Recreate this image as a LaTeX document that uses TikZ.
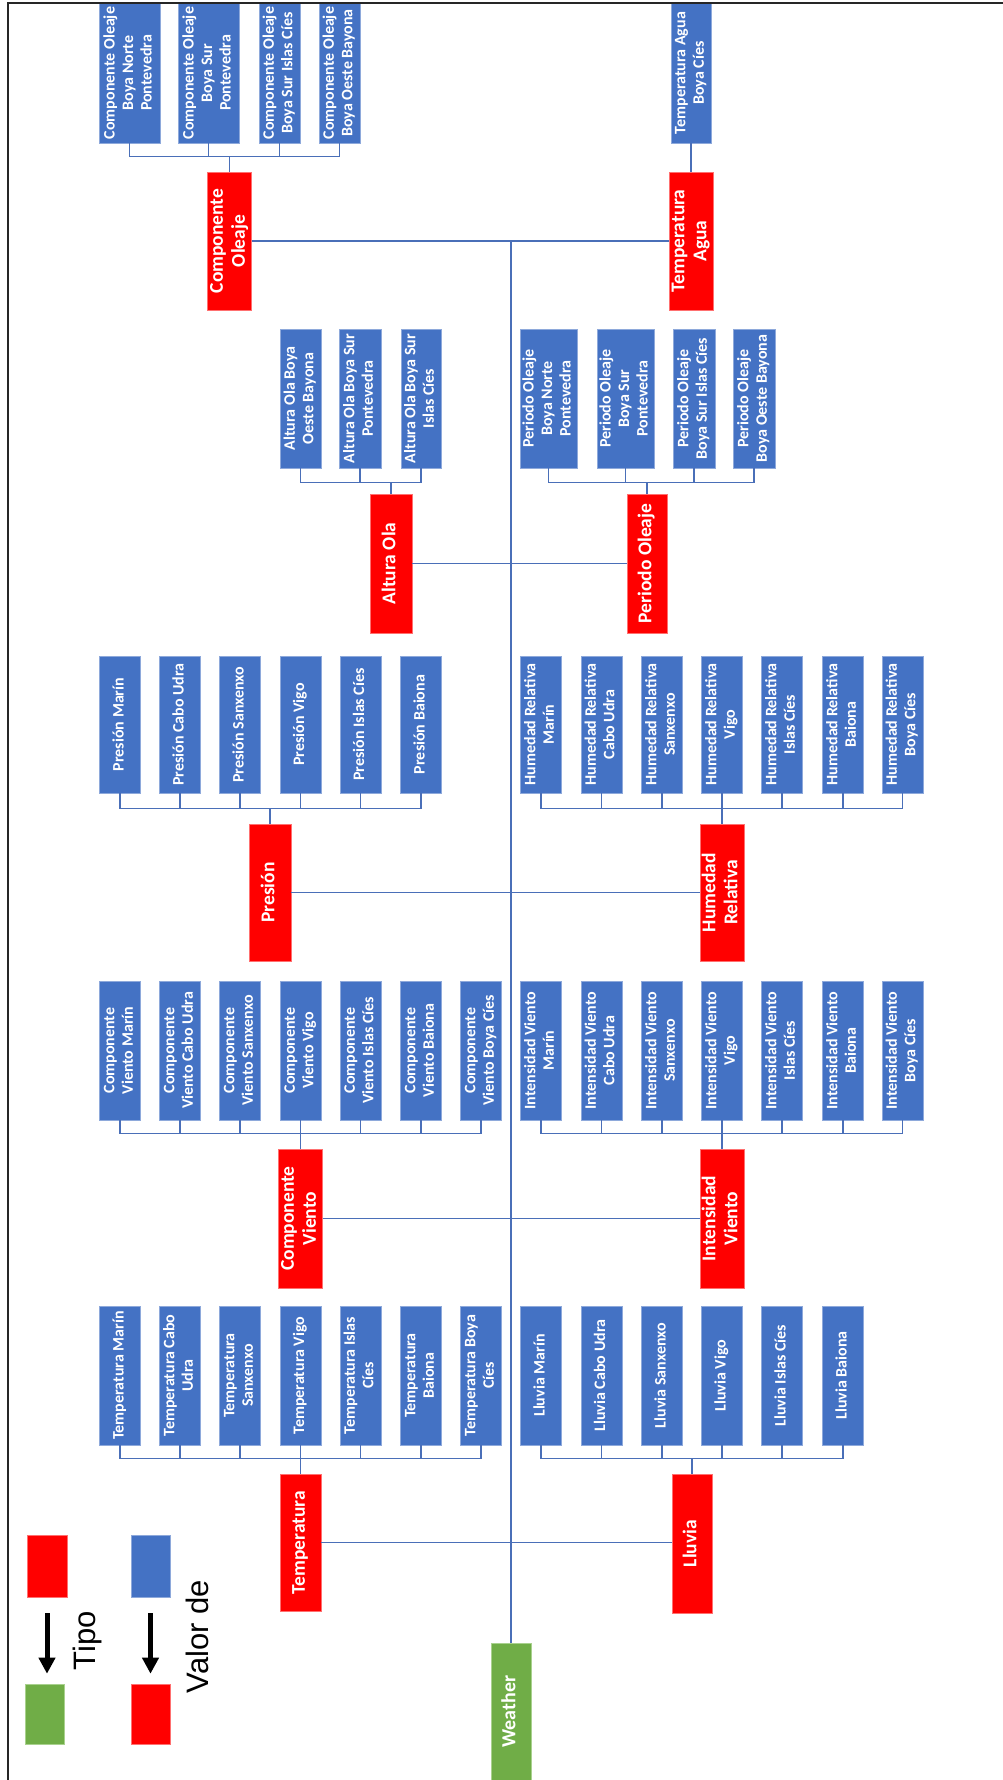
\documentclass[tikz,border=0pt]{standalone}
\usepackage{fontspec}
\usepackage{graphicx}
\setmainfont{Carlito}
\newfontfamily\legfont{Liberation Sans}
\usetikzlibrary{arrows.meta}
\definecolor{vblue}{HTML}{4472C4}
\definecolor{vblueedge}{HTML}{8EA9DB}
\definecolor{tred}{HTML}{FF0000}
\definecolor{trededge}{HTML}{FF7070}
\definecolor{wgreen}{HTML}{70AD47}
\definecolor{wgreenedge}{HTML}{A9D18E}
\definecolor{connblue}{HTML}{4A6FB8}
\newcommand{\vtext}[1]{\rotatebox{90}{\begin{tabular}{@{}c@{}}#1\end{tabular}}}
\begin{document}
\begin{tikzpicture}[x=1pt,y=-1pt,
  vbox/.style={rectangle,fill=vblue,draw=vblueedge,line width=0.7pt,inner sep=0pt,
    minimum width=41pt,text=white,font=\fontsize{16}{18.5}\selectfont\bfseries},
  tbox/.style={rectangle,fill=tred,draw=trededge,line width=0.6pt,inner sep=0pt,
    minimum width=41pt,minimum height=138pt,text=white,font=\fontsize{19.5}{22}\selectfont\bfseries},
  gbox/.style={rectangle,fill=wgreen,draw=wgreenedge,line width=0.6pt,inner sep=0pt,
    minimum width=40pt,text=white,font=\fontsize{20}{22}\selectfont\bfseries},
  conn/.style={draw=connblue,line width=1.3pt},
  trunk/.style={draw=connblue,line width=1.8pt},
  legarrow/.style={draw=black,line width=5pt,-{Triangle[width=16pt,length=16pt]}},
  legtext/.style={rotate=90,inner sep=0pt,font=\legfont\fontsize{31}{36}\selectfont}]
\clip (0,0) rectangle (1003,1780);

% ---------- top row ----------
\node[vbox,minimum width=61pt,minimum height=140pt] (co1) at (129.5,73) {\vtext{Componente Oleaje\\Boya Norte\\Pontevedra}};
\node[vbox,minimum width=61pt,minimum height=140pt] (co2) at (208.5,73) {\vtext{Componente Oleaje\\Boya Sur\\Pontevedra}};
\node[vbox,minimum height=140pt] (co3) at (279.5,73) {\vtext{Componente Oleaje\\Boya Sur Islas Cíes}};
\node[vbox,minimum height=140pt] (co4) at (339.5,73) {\vtext{Componente Oleaje\\Boya Oeste Bayona}};
\node[vbox,minimum width=40pt,minimum height=140pt] (ta1) at (691,73) {\vtext{Temperatura Agua\\Boya Cíes}};
\node[tbox] (rco) at (229.5,241) {\vtext{Componente\\Oleaje}};
\node[tbox,minimum width=40pt] (rta) at (691,241) {\vtext{Temperatura\\Agua}};

% ---------- altura / periodo ----------
\node[vbox,minimum height=139pt] (al1) at (300.5,398.5) {\vtext{Altura Ola Boya\\Oeste Bayona}};
\node[vbox,minimum width=42pt,minimum height=139pt] (al2) at (360,398.5) {\vtext{Altura Ola Boya Sur\\Pontevedra}};
\node[vbox,minimum width=40pt,minimum height=139pt] (al3) at (421,398.5) {\vtext{Altura Ola Boya Sur\\Islas Cíes}};
\node[vbox,minimum width=57pt,minimum height=139pt] (pe1) at (548.5,398.5) {\vtext{Periodo Oleaje\\Boya Norte\\Pontevedra}};
\node[vbox,minimum width=57pt,minimum height=139pt] (pe2) at (625.5,398.5) {\vtext{Periodo Oleaje\\Boya Sur\\Pontevedra}};
\node[vbox,minimum width=42pt,minimum height=139pt] (pe3) at (694,398.5) {\vtext{Periodo Oleaje\\Boya Sur Islas Cíes}};
\node[vbox,minimum width=42pt,minimum height=139pt] (pe4) at (754,398.5) {\vtext{Periodo Oleaje\\Boya Oeste Bayona}};
\node[tbox,minimum width=42pt,minimum height=139pt] (ralt) at (391,563.5) {\vtext{Altura Ola}};
\node[tbox,minimum width=40pt,minimum height=139pt] (rper) at (647,563.5) {\vtext{Periodo Oleaje}};

% ---------- presion / humedad ----------
\foreach \i/\x/\t in {1/120/{Presión Marín},2/180/{Presión Cabo Udra},3/240/{Presión Sanxenxo},
  4/300.5/{Presión Vigo},5/360.5/{Presión Islas Cíes},6/421/{Presión Baiona}}
  \node[vbox,minimum height=137pt] (pr\i) at (\x,724.5) {\vtext{\t}};
\foreach \i/\x/\t in {1/541/{Humedad Relativa\\Marín},2/601.5/{Humedad Relativa\\Cabo Udra},
  3/662/{Humedad Relativa\\Sanxenxo},4/722/{Humedad Relativa\\Vigo},5/782/{Humedad Relativa\\Islas Cíes},
  6/843/{Humedad Relativa\\Baiona},7/902.5/{Humedad Relativa\\Boya Cíes}}
  \node[vbox,minimum height=137pt] (hu\i) at (\x,724.5) {\vtext{\t}};
\node[tbox,minimum width=42pt,minimum height=137pt] (rpres) at (270,892.5) {\vtext{Presión}};
\node[tbox,minimum width=42pt,minimum height=137pt] (rhum) at (722,892.5) {\vtext{Humedad\\Relativa}};

% ---------- componente / intensidad viento ----------
\foreach \i/\x/\t in {1/120/{Componente\\Viento Marín},2/180/{Componente\\Viento Cabo Udra},
  3/240/{Componente\\Viento Sanxenxo},4/300.5/{Componente\\Viento Vigo},5/360.5/{Componente\\Viento Islas Cíes},
  6/421/{Componente\\Viento Baiona},7/481/{Componente\\Viento Boya Cíes}}
  \node[vbox,minimum height=139pt] (cv\i) at (\x,1050.5) {\vtext{\t}};
\foreach \i/\x/\t in {1/541/{Intensidad Viento\\Marín},2/601.5/{Intensidad Viento\\Cabo Udra},
  3/662/{Intensidad Viento\\Sanxenxo},4/722/{Intensidad Viento\\Vigo},5/782/{Intensidad Viento\\Islas Cíes},
  6/843/{Intensidad Viento\\Baiona},7/902.5/{Intensidad Viento\\Boya Cíes}}
  \node[vbox,minimum height=139pt] (iv\i) at (\x,1050.5) {\vtext{\t}};
\node[tbox,minimum height=139pt] (rcv) at (300.5,1218.5) {\vtext{Componente\\Viento}};
\node[tbox,minimum width=42pt,minimum height=139pt] (riv) at (722,1218.5) {\vtext{Intensidad\\Viento}};

% ---------- temperatura / lluvia ----------
\foreach \i/\x/\t in {1/120/{Temperatura Marín},2/180/{Temperatura Cabo\\Udra},
  3/240/{Temperatura\\Sanxenxo},4/300.5/{Temperatura Vigo},5/360.5/{Temperatura Islas\\Cíes},
  6/421/{Temperatura\\Baiona},7/481/{Temperatura Boya\\Cíes}}
  \node[vbox,minimum height=139pt] (te\i) at (\x,1375.5) {\vtext{\t}};
\foreach \i/\x/\t in {1/541/{Lluvia Marín},2/601.5/{Lluvia Cabo Udra},3/662/{Lluvia Sanxenxo},
  4/722/{Lluvia Vigo},5/782/{Lluvia Islas Cíes},6/843/{Lluvia Baiona}}
  \node[vbox,minimum height=139pt] (ll\i) at (\x,1375.5) {\vtext{\t}};
\node[tbox,minimum height=137pt] (rtemp) at (300.5,1542.5) {\vtext{Temperatura}};
\node[tbox,minimum width=40pt,minimum height=139pt] (rllu) at (692,1543.5) {\vtext{Lluvia}};

% ---------- root ----------
\node[gbox,minimum height=137pt] (weather) at (511,1711.5) {\vtext{Weather}};

% ---------- brackets ----------
\foreach \c in {co1,co2,co3,co4}
  \draw[conn] (\c.south) |- ([yshift=15pt]rco.north) -- (rco.north);
\draw[conn] (ta1.south) -- (rta.north);
\foreach \c in {al1,al2,al3}
  \draw[conn] (\c.south) |- ([yshift=11pt]ralt.north) -- (ralt.north);
\foreach \c in {pe1,pe2,pe3,pe4}
  \draw[conn] (\c.south) |- ([yshift=11pt]rper.north) -- (rper.north);
\foreach \i in {1,...,6}
  \draw[conn] (pr\i.south) |- ([yshift=15pt]rpres.north) -- (rpres.north);
\foreach \i in {1,...,7}
  \draw[conn] (hu\i.south) |- ([yshift=15pt]rhum.north) -- (rhum.north);
\foreach \i in {1,...,7}
  \draw[conn] (cv\i.south) |- ([yshift=15pt]rcv.north) -- (rcv.north);
\foreach \i in {1,...,7}
  \draw[conn] (iv\i.south) |- ([yshift=15pt]riv.north) -- (riv.north);
\foreach \i in {1,...,7}
  \draw[conn] (te\i.south) |- ([yshift=15pt]rtemp.north) -- (rtemp.north);
\foreach \i in {1,...,6}
  \draw[conn] (ll\i.south) |- ([yshift=15pt]rllu.north) -- (rllu.north);

% ---------- trunk and branches ----------
\draw[trunk] (weather.north) -- (weather.north |- rco.east);
\draw[conn] (rco.east) -- (rta.west);
\draw[conn] (ralt.east) -- (rper.west);
\draw[conn] (rpres.east) -- (rhum.west);
\draw[conn] (rcv.east) -- (riv.west);
\draw[conn] (rtemp.east) -- (rtemp.east -| rllu.west);

% ---------- legend ----------
\node[tbox,minimum width=40pt,minimum height=62pt] (lr1) at (47,1566) {};
\node[vbox,minimum width=39pt,minimum height=62pt] (lb1) at (150.5,1566) {};
\node[gbox,minimum width=39pt,minimum height=60pt] (lg1) at (44.5,1714) {};
\node[tbox,minimum width=39pt,minimum height=60pt] (lr2) at (150.5,1714) {};
\draw[legarrow,shorten <=16pt,shorten >=10pt] (lr1.south) -- (lr1.south |- lg1.north);
\draw[legarrow,shorten <=16pt,shorten >=10pt] (lb1.south) -- (lr2.north);
\node[legtext] (tipo) at (87,1640.5) {Tipo};
\node[legtext] (valorde) at (197,1636.5) {Valor de};

% ---------- frame ----------
\draw[line width=2pt,draw=black!85] (8,1780) -- (8,3) -- (1003,3);
\end{tikzpicture}
\end{document}
